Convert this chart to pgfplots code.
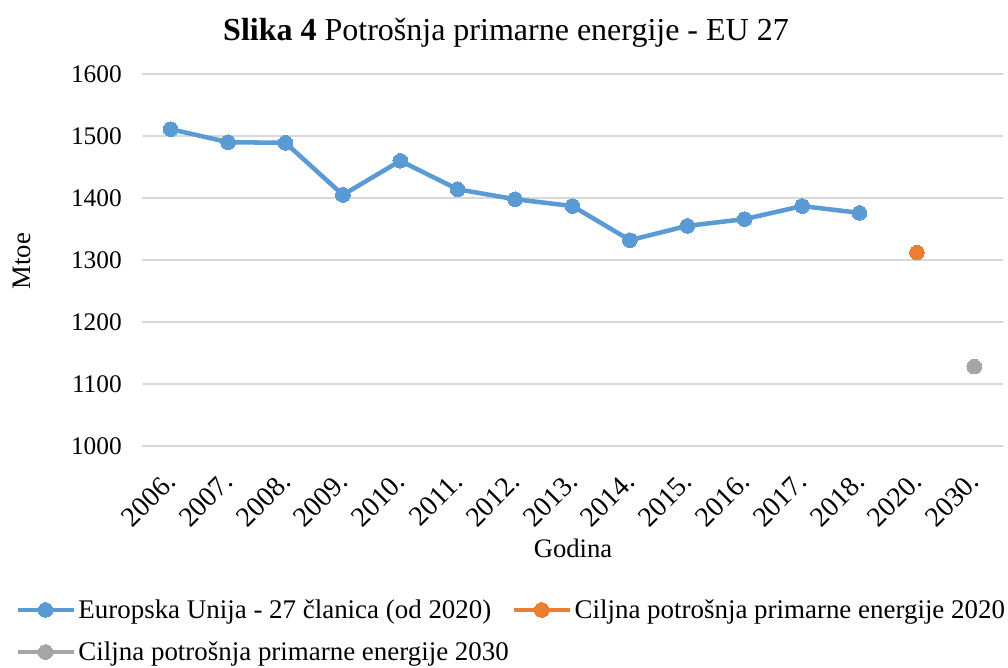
\documentclass[border=0pt]{standalone}
\usepackage{pgfplots}
\pgfplotsset{compat=1.18}
\usepackage{fontspec}
\setmainfont{Liberation Serif}
\definecolor{cblue}{HTML}{5B9BD5}
\definecolor{corange}{HTML}{ED7D31}
\definecolor{cgray}{HTML}{A5A5A5}
\definecolor{cgrid}{HTML}{D9D9D9}
\begin{document}
\begin{tikzpicture}
\path[use as bounding box] (0,0) rectangle (756pt,501pt);
\node[font=\fontsize{24}{28}\selectfont] at (379.5pt,476.25pt) {\textbf{Slika 4} Potrošnja primarne energije - EU 27};
\begin{axis}[
  at={(106.5pt,166.5pt)}, anchor=south west,
  scale only axis, width=645.75pt, height=279pt,
  xmin=-0.5, xmax=14.5, ymin=1000, ymax=1600,
  xtick={0,...,14},
  xticklabels={2006.,2007.,2008.,2009.,2010.,2011.,2012.,2013.,2014.,2015.,2016.,2017.,2018.,2020.,2030.},
  ytick={1000,1100,...,1600},
  ymajorgrids, grid style={cgrid, line width=1.1pt},
  axis line style={draw=none},
  major tick length=0pt,
  /pgf/number format/assume math mode=true,
  /pgf/number format/1000 sep={},
  yticklabel style={font=\fontsize{19}{22}\selectfont, inner sep=0pt, xshift=-15pt},
  xticklabel style={font=\fontsize{21}{24}\selectfont, xshift=-5pt, yshift=-18pt, rotate=45, anchor=north east, inner sep=0pt},
  xlabel={Godina},
  ylabel={Mtoe},
  every axis x label/.style={at={(rel axis cs:0.5006,-0.274)}, anchor=center, font=\fontsize{20}{24}\selectfont},
  every axis y label/.style={at={(rel axis cs:-0.1394,0.497)}, anchor=center, rotate=90, font=\fontsize{20}{24}\selectfont},
  legend style={draw=none, font=\fontsize{20.2}{23}\selectfont, at={(rel axis cs:-0.1475,-0.405)}, anchor=north west, legend columns=2, /tikz/every even column/.append style={column sep=0pt}, row sep=12pt, inner sep=0pt},
  legend cell align=left,
  legend image code/.code={\draw[#1, mark repeat=2, mark phase=2] plot coordinates {(0pt,0pt) (21pt,0pt) (42pt,0pt)};},
]
\addplot[cblue, line width=3.4pt, mark=*, mark size=5.5pt, mark options={line width=0pt}] coordinates {
(0,1511) (1,1490) (2,1489) (3,1405) (4,1460) (5,1414) (6,1398) (7,1387) (8,1332) (9,1355) (10,1366) (11,1387) (12,1376)};
\addlegendentry{Europska Unija - 27 članica (od 2020)}
\addplot[corange, line width=3.4pt, mark=*, mark size=5.5pt, mark options={line width=0pt}] coordinates {(13,1312)};
\addlegendentry{Ciljna potrošnja primarne energije 2020}
\addplot[cgray, line width=3.4pt, mark=*, mark size=5.5pt, mark options={line width=0pt}] coordinates {(14,1128)};
\addlegendentry{Ciljna potrošnja primarne energije 2030}
\end{axis}
\end{tikzpicture}
\end{document}
